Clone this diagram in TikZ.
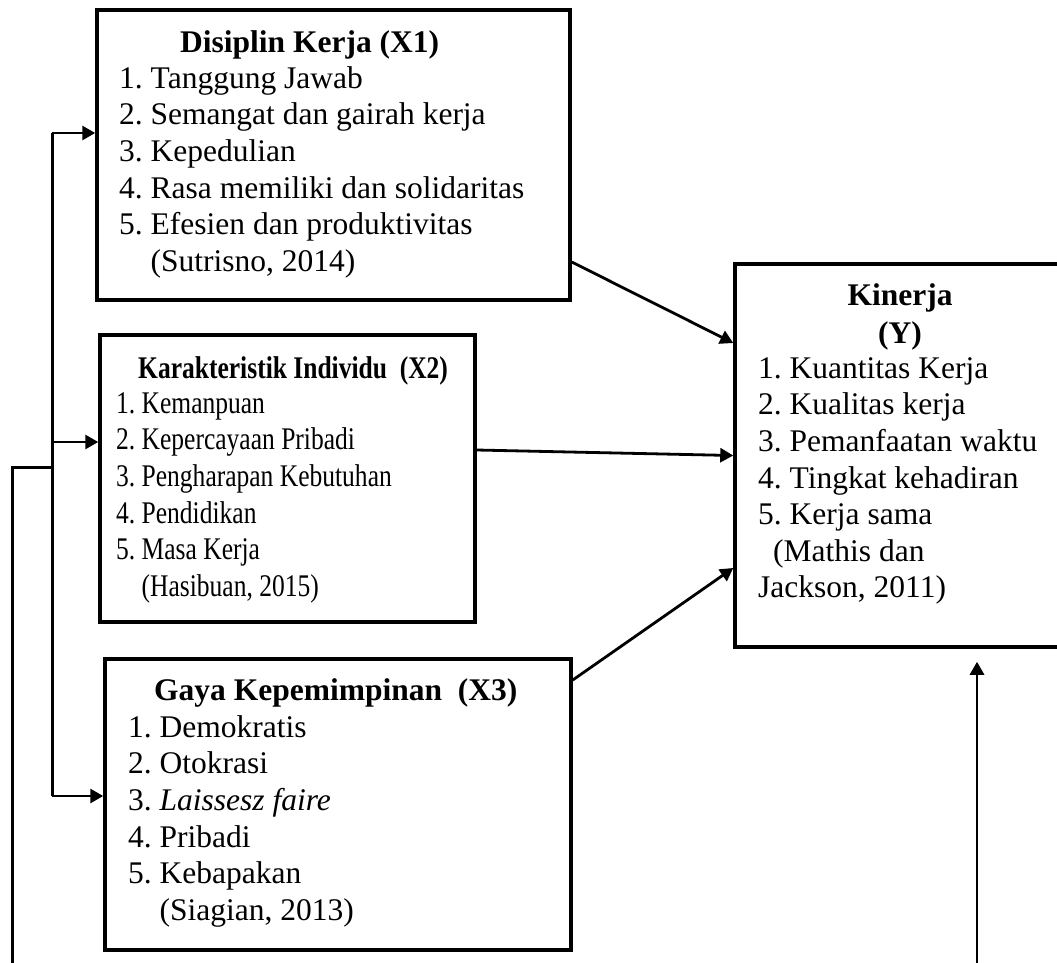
\documentclass[tikz,border=0pt]{standalone}
\usepackage{fontspec}
\setmainfont{Liberation Serif}
\newfontfamily\narrowserif[FakeStretch=0.81]{Liberation Serif}
\usetikzlibrary{arrows.meta}
\begin{document}
\frenchspacing
\begin{tikzpicture}[x=1pt,y=-1pt,
  box/.style={draw, line width=3.5pt, inner sep=0pt},
  txt/.style={font=\fontsize{31.5}{36.6}\selectfont\frenchspacing, inner sep=0pt, align=left, anchor=north west},
  ttl/.style={font=\fontsize{31.5}{36.6}\selectfont\bfseries, inner sep=0pt, anchor=base west},
  plain/.style={line width=3pt},
  conn/.style={line width=2.8pt, -{Triangle[length=13pt,width=14pt]}}]
\useasboundingbox (0,0) rectangle (1057,962);
\clip (0,0) rectangle (1057,962);
% boxes
\node[box, minimum width=473pt, minimum height=290pt] (x1) at (333.5,155) {};
\node[box, minimum width=375pt, minimum height=287pt] (x2) at (287.5,478.5) {};
\node[box, minimum width=466pt, minimum height=291pt] (x3) at (338,804.5) {};
\node[box, minimum width=330pt, minimum height=383pt] (kin) at (900,455.5) {};
% texts
\node[ttl] (x1t) at (180,52) {Disiplin Kerja (X1)};
\node[txt] (x1l) at (119,64) {\rule{0pt}{24pt}1. Tanggung Jawab\\2. Semangat dan gairah kerja\\3. Kepedulian\\4. Rasa memiliki dan solidaritas\\5. Efesien dan produktivitas\\\phantom{5. }(Sutrisno, 2014)};
\node[ttl, font=\fontsize{31.5}{36.6}\selectfont\narrowserif\bfseries] (x2t) at (138,378) {Karakteristik Individu\ \ (X2)};
\node[txt, font=\fontsize{31.5}{36.6}\selectfont\narrowserif\frenchspacing] (x2l) at (116,389) {\rule{0pt}{24pt}1. Kemanpuan\\2. Kepercayaan Pribadi\\3. Pengharapan Kebutuhan\\4. Pendidikan\\5. Masa Kerja\\\phantom{5. }(Hasibuan, 2015)};
\node[ttl] (x3t) at (154,700) {Gaya Kepemimpinan\ \ (X3)};
\node[txt] (x3l) at (128,713) {\rule{0pt}{24pt}1. Demokratis\\2. Otokrasi\\3. \textit{Laissesz faire}\\4. Pribadi\\5. Kebapakan\\\phantom{5. }(Siagian, 2013)};
\node[ttl, anchor=base] (kt1) at (900,305) {Kinerja};
\node[ttl, anchor=base] (kt2) at (900,343) {(Y)};
\node[txt] (kl) at (758,354) {\rule{0pt}{24pt}1. Kuantitas Kerja\\2. Kualitas kerja\\3. Pemanfaatan waktu\\4. Tingkat kehadiran\\5. Kerja sama\\\hspace*{15pt}(Mathis dan\\Jackson, 2011)};
% connectors to Kinerja
\draw[conn] ([yshift=-107pt]x1.east) -- ([yshift=112.5pt]kin.west);
\draw[conn] ([yshift=28.5pt]x2.east) -- (kin.west);
\draw[conn] ([yshift=124.5pt]x3.east) -- ([yshift=-112.5pt]kin.west);
% left distribution
\coordinate (lt) at (52,133);
\coordinate (lm) at (52,442);
\coordinate (lb) at (52,796);
\coordinate (ob) at (12,965);
\coordinate (oj) at (12,467);
\draw[plain] (lt) -- (lb);
\draw[conn] (lt) -- (lt -| x1.west);
\draw[conn] (lm) -- (lm -| x2.west);
\draw[conn] (lb) -- (lb -| x3.west);
\draw[plain] (ob) -- (oj) -- (oj -| lt);
% bottom right arrow
\coordinate (rb) at (977,965);
\draw[conn, shorten >=13pt] (rb) -- (rb |- kin.south);
\end{tikzpicture}
\end{document}
